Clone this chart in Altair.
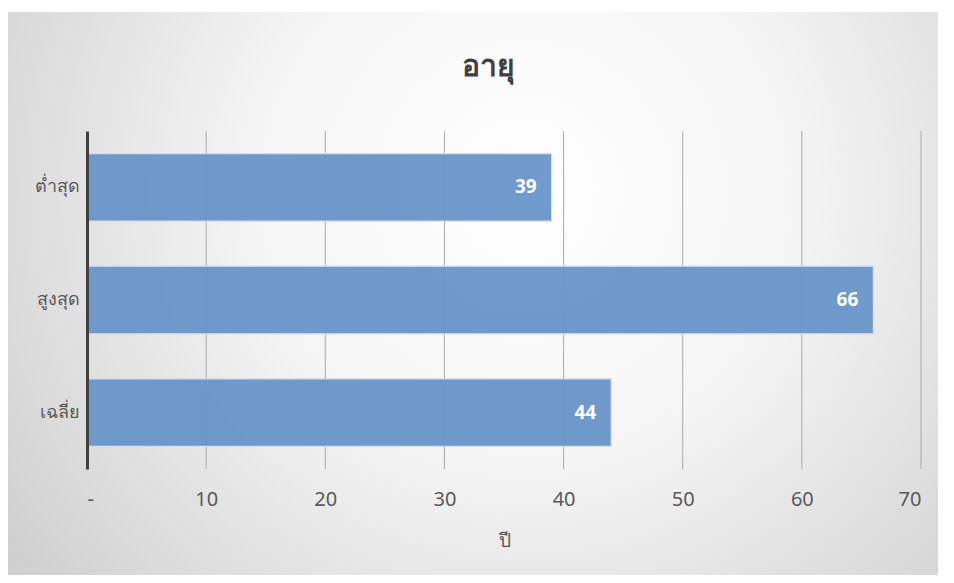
import altair as alt
import pandas as pd

categories = ["ต่ำสุด", "สูงสุด", "เฉลี่ย"]
values = [39, 66, 44]
x_ticks = [0, 10, 20, 30, 40, 50, 60, 70]
grid_ticks = [10, 20, 30, 40, 50, 60, 70]
title_text = "อายุ"
x_title = "ปี"

df = pd.DataFrame({"cat": categories, "val": values})
grid_df = pd.DataFrame({"tick": grid_ticks})
bg_df = pd.DataFrame({"bg": [0]})

W, H = 834, 338
PAD_L, PAD_T = 79, 123

FONT = "Noto Sans"

bg = alt.Chart(bg_df).mark_rect(
    fill={
        "gradient": "radial",
        "x1": 0.5, "y1": 0.38, "r1": 0,
        "x2": 0.5, "y2": 0.38, "r2": 0.72,
        "stops": [
            {"offset": 0, "color": "#ffffff"},
            {"offset": 0.35, "color": "#f5f5f5"},
            {"offset": 1, "color": "#c4c4c4"},
        ],
    }
).encode(
    x=alt.value(-PAD_L),
    x2=alt.value(W + 120),
    y=alt.value(-(PAD_T - 4)),
    y2=alt.value(H + 150),
)

grid = alt.Chart(grid_df).mark_rule(color="#a9a9a9", strokeWidth=1).encode(
    x=alt.X("tick:Q"),
    y=alt.value(0),
    y2=alt.value(H),
)

x_enc = alt.X(
    "val:Q",
    scale=alt.Scale(domain=[0, 70], nice=False, zero=True),
    axis=alt.Axis(
        values=x_ticks,
        labelExpr="datum.value == 0 ? '-' : datum.label",
        grid=False,
        domain=False,
        ticks=False,
        labelPadding=20,
        labelFontSize=20,
        labelColor="#595959",
        labelFont=FONT,
        title=x_title,
        titleFontSize=19,
        titleFontWeight="normal",
        titleColor="#595959",
        titleFont=FONT,
        titlePadding=22,
        zindex=1,
    ),
)

y_enc = alt.Y(
    "cat:N",
    sort=categories,
    scale=alt.Scale(paddingInner=0.4, paddingOuter=0.2),
    axis=alt.Axis(
        title=None,
        ticks=False,
        grid=False,
        domainColor="#404040",
        domainWidth=3,
        labelFontSize=18,
        labelColor="#595959",
        labelFont=FONT,
        labelPadding=8,
        zindex=1,
    ),
)

bars = alt.Chart(df).mark_bar(
    color="#6794c8", opacity=0.94, stroke="#d3e0f1", strokeWidth=1.2
).encode(x=x_enc, y=y_enc)

labels = alt.Chart(df).mark_text(
    align="right", baseline="middle", dx=-15, color="white",
    fontSize=19, fontWeight="bold", font=FONT
).encode(x="val:Q", y=alt.Y("cat:N", sort=categories), text="val:Q")

chart = alt.layer(bg, grid, bars, labels).properties(
    width=W,
    height=H,
    title=alt.TitleParams(
        title_text, fontSize=30, fontWeight="bold", color="#404040",
        font=FONT, anchor="middle", frame="group", dx=-16, offset=-70,
    ),
    autosize=alt.AutoSizeParams(type="none"),
    padding={"left": PAD_L, "top": PAD_T, "right": 17, "bottom": 106},
).configure_view(stroke=None)

chart.save("out.html", embed_options={"renderer": "svg", "actions": False})
